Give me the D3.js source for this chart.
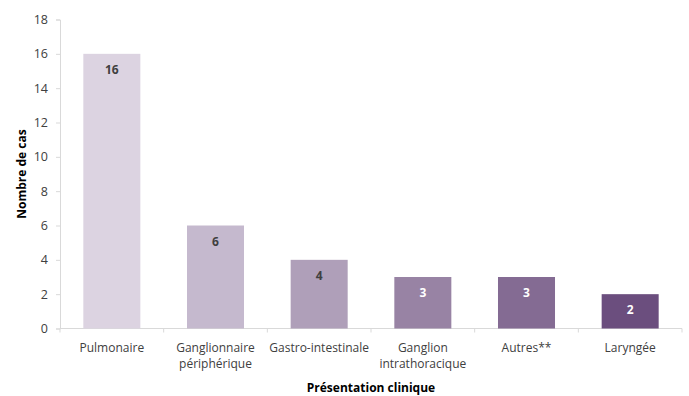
<!DOCTYPE html>
<html>
<head>
<meta charset="utf-8">
<script src="https://cdn.jsdelivr.net/npm/d3@7"></script>
<style>
  body { margin: 0; background: #fff; }
  svg text { font-family: "Open Sans", "Noto Sans", sans-serif; }
</style>
</head>
<body>
<svg width="689" height="396"></svg>
<script>
const categories = [["Pulmonaire"], ["Ganglionnaire", "périphérique"], ["Gastro-intestinale"],
    ["Ganglion", "intrathoracique"], ["Autres**"], ["Laryngée"]]
const values = [16, 6, 4, 3, 3, 2]
const barColors = ["#dcd3e1", "#c5b9ce", "#af9fb9", "#9883a4", "#846b93", "#6b4e7e"]
const labelColors = ["#404040", "#404040", "#404040", "#ffffff", "#ffffff", "#ffffff"]
const yTicks = [0, 2, 4, 6, 8, 10, 12, 14, 16, 18]

const svg = d3.select("svg")
const plotLeft = 60, plotRight = 682, plotTop = 19.5, plotBottom = 328.5

const x = d3.scaleBand()
    .domain(d3.range(values.length))
    .range([plotLeft, plotRight])
    .paddingInner(0.45)
    .paddingOuter(0.225)

const y = d3.scaleLinear().domain([0, 18]).range([plotBottom, plotTop])

// y axis
const yAxis = svg.append("g")
    .attr("transform", `translate(${plotLeft},0)`)
    .call(d3.axisLeft(y).tickValues(yTicks).tickSize(4).tickPadding(8))
yAxis.select(".domain").attr("stroke", "#d9d9d9")
yAxis.selectAll(".tick line").attr("stroke", "#d9d9d9")
yAxis.selectAll(".tick text")
    .attr("fill", "#404040")
    .style("font-size", "12.5px")
    .style("font-family", "'Open Sans', sans-serif")

// x axis line with ticks between categories
const step = x.step()
svg.append("line")
    .attr("x1", plotLeft).attr("x2", plotRight)
    .attr("y1", plotBottom).attr("y2", plotBottom)
    .attr("stroke", "#d9d9d9")
svg.selectAll(".xtick")
    .data(d3.range(values.length + 1))
    .enter()
    .append("line")
    .attr("class", "xtick")
    .attr("x1", d => plotLeft + d * step).attr("x2", d => plotLeft + d * step)
    .attr("y1", plotBottom).attr("y2", plotBottom + 4)
    .attr("stroke", "#d9d9d9")

// bars
svg.selectAll(".bar")
    .data(values)
    .enter()
    .append("rect")
    .attr("class", "bar")
    .attr("x", (d, i) => x(i))
    .attr("y", d => y(d))
    .attr("width", x.bandwidth())
    .attr("height", d => plotBottom - y(d))
    .attr("fill", (d, i) => barColors[i])

// value labels
svg.selectAll(".val")
    .data(values)
    .enter()
    .append("text")
    .attr("class", "val")
    .attr("x", (d, i) => x(i) + x.bandwidth() / 2)
    .attr("y", d => y(d) + 20)
    .attr("text-anchor", "middle")
    .attr("fill", (d, i) => labelColors[i])
    .style("font-size", "12px")
    .style("font-weight", "bold")
    .text(d => d)

// category labels
const cat = svg.selectAll(".cat")
    .data(categories)
    .enter()
    .append("text")
    .attr("class", "cat")
    .attr("text-anchor", "middle")
    .attr("fill", "#404040")
    .style("font-size", "12px")
cat.selectAll("tspan")
    .data((d, i) => d.map(s => ({s, i})))
    .enter()
    .append("tspan")
    .attr("x", d => x(d.i) + x.bandwidth() / 2)
    .attr("y", (d, j) => 352 + j * 16)
    .text(d => d.s)

// axis titles
svg.append("text")
    .attr("x", 371).attr("y", 392)
    .attr("text-anchor", "middle")
    .attr("fill", "#000")
    .style("font-size", "12px")
    .style("font-weight", "bold")
    .text("Présentation clinique")

svg.append("text")
    .attr("transform", "translate(26,174) rotate(-90)")
    .attr("text-anchor", "middle")
    .attr("fill", "#000")
    .style("font-size", "12px")
    .style("font-weight", "bold")
    .text("Nombre de cas")
</script>
</body>
</html>
